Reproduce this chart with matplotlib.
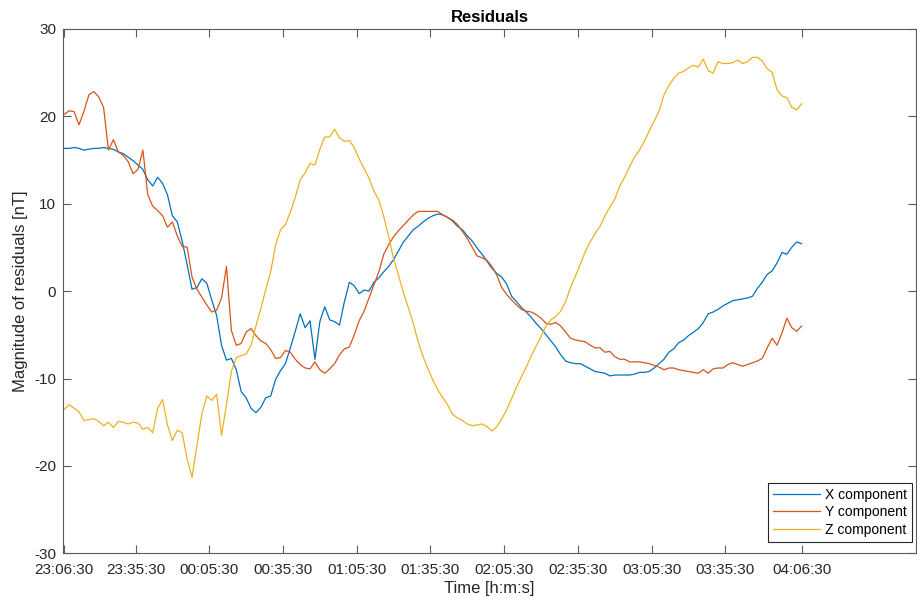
import numpy as np
import matplotlib
matplotlib.use("Agg")
import matplotlib.pyplot as plt

plt.rcParams["font.family"] = ["Liberation Sans", "DejaVu Sans"]
plt.rcParams["axes.unicode_minus"] = False

# sample times, minutes after 23:06:30 (one sample every 2 minutes)
minutes = np.arange(0, 301, 2)

x_comp = [
    16.3, 16.3, 16.4, 16.3, 16.1, 16.2, 16.3, 16.3, 16.4, 16.3,
    16.2, 15.9, 15.7, 15.3, 14.9, 14.4, 13.9, 12.7, 12.0, 13.0,
    12.3, 11.0, 8.6, 7.9, 5.7, 3.0, 0.2, 0.4, 1.4, 0.9,
    -1.0, -2.8, -6.2, -7.9, -7.7, -9.0, -11.5, -12.2, -13.4, -13.9,
    -13.3, -12.2, -12.0, -10.1, -9.1, -8.3, -6.5, -4.6, -2.6, -4.2,
    -3.4, -7.8, -3.5, -1.8, -3.3, -3.5, -3.9, -1.2, 1.0, 0.6,
    -0.3, 0.1, 0.0, 1.0, 1.5, 2.2, 2.8, 3.6, 4.6, 5.6,
    6.3, 7.0, 7.4, 7.9, 8.3, 8.6, 8.8, 8.7, 8.4, 8.0,
    7.4, 7.0, 6.3, 5.7, 4.9, 4.2, 3.4, 2.6, 2.0, 1.6,
    0.8, -0.6, -1.2, -1.9, -2.4, -3.0, -3.7, -4.3, -5.0, -5.7,
    -6.4, -7.3, -8.0, -8.2, -8.3, -8.3, -8.6, -8.9, -9.2, -9.3,
    -9.4, -9.7, -9.6, -9.6, -9.6, -9.6, -9.5, -9.3, -9.3, -9.2,
    -8.8, -8.3, -7.8, -7.0, -6.6, -5.9, -5.6, -5.1, -4.7, -4.3,
    -3.6, -2.6, -2.4, -2.1, -1.7, -1.4, -1.1, -1.0, -0.9, -0.8,
    -0.6, 0.3, 1.0, 1.9, 2.3, 3.2, 4.4, 4.2, 5.0, 5.6,
    5.4,
]

y_comp = [
    20.2, 20.6, 20.5, 19.0, 20.5, 22.4, 22.8, 22.2, 21.0, 16.1,
    17.3, 15.9, 15.5, 14.8, 13.4, 13.9, 16.1, 11.0, 9.7, 9.2,
    8.6, 7.3, 7.9, 6.3, 5.1, 5.0, 1.6, 0.2, -0.7, -1.6,
    -2.4, -2.2, -0.8, 2.8, -4.5, -6.2, -6.0, -4.7, -4.3, -5.1,
    -5.7, -6.0, -6.7, -7.7, -7.6, -6.8, -7.0, -7.8, -8.4, -8.8,
    -8.9, -8.1, -9.0, -9.4, -8.9, -8.3, -7.3, -6.6, -6.4, -5.0,
    -3.4, -2.3, -0.8, 0.7, 2.2, 4.2, 5.3, 6.2, 6.9, 7.5,
    8.1, 8.7, 9.1, 9.1, 9.1, 9.1, 9.1, 8.7, 8.4, 8.1,
    7.6, 6.8, 6.0, 5.0, 4.0, 3.8, 3.5, 2.8, 1.8, 0.4,
    -0.4, -1.0, -1.6, -2.1, -2.3, -2.4, -2.7, -3.1, -3.7, -3.8,
    -3.6, -4.0, -4.7, -5.4, -5.6, -5.7, -5.8, -6.2, -6.5, -6.5,
    -7.0, -6.9, -7.5, -7.8, -7.8, -8.1, -8.1, -8.1, -8.2, -8.3,
    -8.5, -8.7, -9.0, -8.8, -8.8, -9.0, -9.1, -9.2, -9.3, -9.4,
    -9.0, -9.4, -8.9, -8.8, -8.8, -8.4, -8.2, -8.4, -8.6, -8.4,
    -8.2, -8.0, -7.7, -6.5, -5.4, -6.2, -4.8, -3.1, -4.2, -4.6,
    -4.0,
]

z_comp = [
    -13.5, -13.0, -13.4, -13.8, -14.8, -14.7, -14.6, -14.9, -15.4, -15.0,
    -15.6, -14.9, -15.0, -15.2, -15.0, -15.1, -15.8, -15.6, -16.2, -13.4,
    -12.4, -15.3, -17.1, -15.9, -16.2, -19.2, -21.3, -17.6, -14.0, -12.0,
    -12.5, -11.8, -16.5, -13.0, -9.2, -7.6, -7.4, -7.2, -6.2, -4.0,
    -2.0, 0.2, 2.2, 5.3, 7.0, 7.6, 9.0, 10.7, 12.7, 13.5,
    14.6, 14.4, 16.2, 17.6, 17.6, 18.5, 17.5, 17.1, 17.2, 16.4,
    15.1, 14.0, 12.9, 11.4, 10.4, 8.5, 6.2, 3.7, 1.8, -0.2,
    -1.9, -3.7, -5.8, -7.5, -8.9, -10.2, -11.3, -12.2, -13.0, -14.1,
    -14.5, -14.8, -15.2, -15.4, -15.3, -15.2, -15.5, -16.0, -15.5, -14.6,
    -13.6, -12.3, -11.0, -9.8, -8.7, -7.4, -6.3, -5.2, -4.0, -3.3,
    -2.9, -2.3, -1.2, 0.4, 1.7, 3.1, 4.5, 5.6, 6.6, 7.4,
    8.6, 9.6, 10.5, 12.0, 13.0, 14.2, 15.3, 16.1, 17.1, 18.3,
    19.4, 20.6, 22.4, 23.5, 24.3, 24.9, 25.1, 25.5, 25.8, 25.6,
    26.5, 25.2, 24.9, 26.2, 26.0, 26.0, 26.1, 26.4, 26.0, 26.2,
    26.7, 26.7, 26.3, 25.4, 25.0, 23.0, 22.3, 22.1, 21.0, 20.7,
    21.4,
]

tick_minutes = [0, 29, 59, 89, 119, 149, 179, 209, 239, 269, 300]
tick_labels = ["23:06:30", "23:35:30", "00:05:30", "00:35:30", "01:05:30",
               "01:35:30", "02:05:30", "02:35:30", "03:05:30", "03:35:30",
               "04:06:30"]

fig = plt.figure(figsize=(9.17, 6.03), dpi=100)
ax = fig.add_axes([0.0687, 0.0821, 0.9301, 0.8706])

ax.plot(minutes, x_comp, color="#0072BD", lw=0.9, label="X component")
ax.plot(minutes, y_comp, color="#D95319", lw=0.9, label="Y component")
ax.plot(minutes, z_comp, color="#EDB120", lw=0.9, label="Z component")

ax.set_xlim(-0.5, 346.5)
ax.set_ylim(-30, 30)
ax.set_xticks(tick_minutes)
ax.set_xticklabels(tick_labels)
ax.set_yticks([-30, -20, -10, 0, 10, 20, 30])

for s in ax.spines.values():
    s.set_color("#5a5a5a")
    s.set_linewidth(0.8)
ax.tick_params(direction="in", length=5.5, width=0.8, color="#5a5a5a",
               labelsize=11, labelcolor="#262626", top=True, right=True)
ax.tick_params(axis="x", pad=7)
ax.tick_params(axis="y", pad=5)

ax.set_title("Residuals", fontsize=12, fontweight="bold", pad=5)
ax.set_xlabel("Time [h:m:s]", fontsize=12, color="#262626", labelpad=3)
ax.set_ylabel("Magnitude of residuals [nT]", fontsize=12, color="#262626")
ax.yaxis.set_label_coords(-0.041, 0.5)

leg = ax.legend(loc="lower right", bbox_to_anchor=(0.995, 0.0225),
                borderaxespad=0, fontsize=10, handlelength=3.4,
                handletextpad=0.35, labelspacing=0.26, borderpad=0.35,
                fancybox=False, framealpha=1)
leg.get_frame().set_edgecolor("#262626")
leg.get_frame().set_linewidth(0.8)

fig.savefig("out.png", dpi=100)
